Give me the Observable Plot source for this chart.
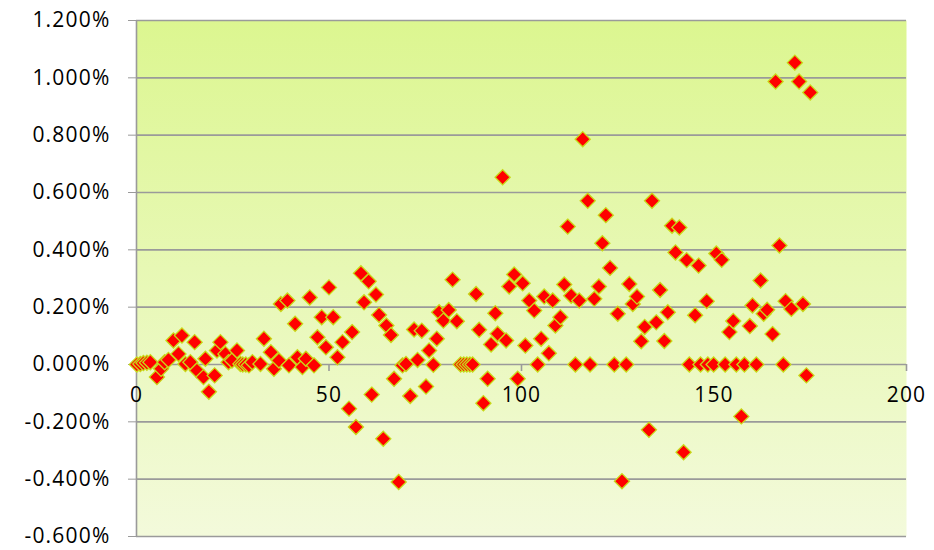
<!DOCTYPE html>
<html><head><meta charset="utf-8">
<script src="https://cdn.jsdelivr.net/npm/d3@7"></script>
<script src="https://cdn.jsdelivr.net/npm/@observablehq/plot@0.6"></script>
<style>body{margin:0;background:#fff;} #chart svg{display:block;}</style>
</head><body><div id="chart"></div>
<script>
const xValues = [0.1,1.0,1.8,2.7,3.6,5.3,6.4,7.3,8.3,9.6,10.9,11.8,12.7,14.0,15.1,15.7,17.4,17.9,18.8,20.3,20.9,21.8,23.1,23.9,24.8,26.1,27.0,27.6,28.4,29.2,30.1,32.2,33.1,34.9,35.7,37.0,37.5,39.2,39.6,41.2,41.8,43.1,44.0,45.0,46.1,47.0,48.1,49.2,50.0,51.1,52.2,53.5,55.2,56.0,57.0,58.3,59.1,60.3,61.1,62.2,63.0,64.1,64.9,66.1,66.9,68.1,69.1,70.0,71.1,72.1,73.0,74.1,75.2,76.0,77.1,78.0,78.6,79.7,81.1,82.1,83.2,84.2,85.0,85.8,86.6,87.3,88.2,89.0,90.1,91.2,92.1,93.2,93.8,95.1,96.0,96.8,98.1,99.0,100.3,101.0,102.0,103.3,104.2,105.1,105.9,107.1,108.1,108.8,110.1,111.1,112.0,112.9,114.0,115.0,115.9,117.2,117.8,118.9,120.1,121.0,121.9,123.0,124.1,125.0,126.1,127.2,128.0,128.9,130.0,131.1,132.0,133.1,133.9,135.0,136.0,137.1,138.0,139.1,140.0,141.0,142.1,142.9,143.6,145.1,146.0,146.5,148.1,148.4,149.9,150.6,152.0,152.9,154.0,155.0,155.8,157.1,157.9,159.3,160.0,161.0,162.1,162.9,163.8,165.2,166.0,167.0,168.0,168.6,170.1,171.0,172.1,173.1,174.0,175.0];
const yValues = [0.000,0.002,0.005,0.006,0.008,-0.044,-0.015,0.008,0.016,0.084,0.037,0.101,0.002,0.008,0.078,-0.021,-0.044,0.020,-0.095,-0.038,0.049,0.078,0.037,0.008,0.014,0.049,0.002,0.000,0.000,-0.003,0.008,0.002,0.090,0.043,-0.015,0.014,0.211,0.223,-0.003,0.142,0.025,-0.009,0.020,0.234,-0.003,0.095,0.165,0.060,0.269,0.165,0.025,0.078,-0.154,0.113,-0.218,0.318,0.217,0.290,-0.105,0.244,0.173,-0.259,0.136,0.103,-0.050,-0.410,-0.003,0.002,-0.110,0.122,0.016,0.118,-0.077,0.049,-0.001,0.090,0.182,0.153,0.190,0.296,0.151,0.000,0.000,0.000,0.000,0.000,0.246,0.121,-0.135,-0.050,0.070,0.179,0.107,0.653,0.084,0.272,0.314,-0.050,0.283,0.066,0.223,0.188,0.000,0.090,0.237,0.039,0.223,0.136,0.165,0.279,0.481,0.240,0.000,0.223,0.786,0.571,0.000,0.229,0.272,0.423,0.521,0.337,0.000,0.177,-0.407,0.000,0.281,0.211,0.237,0.081,0.131,-0.228,0.571,0.147,0.260,0.082,0.182,0.484,0.391,0.478,-0.306,0.364,0.000,0.172,0.345,0.000,0.221,0.000,0.000,0.387,0.365,0.000,0.113,0.152,0.000,-0.181,0.000,0.134,0.206,0.000,0.293,0.177,0.191,0.106,0.987,0.415,0.000,0.221,0.194,1.053,0.987,0.211,-0.038,0.949];
const xTicks = [0, 50, 100, 150, 200];
const yTicks = [-0.6, -0.4, -0.2, 0, 0.2, 0.4, 0.6, 0.8, 1.0, 1.2];

const points = xValues.map((x, i) => ({x, y: yValues[i]}));

const chart = Plot.plot({
  width: 934, height: 550,
  marginLeft: 136, marginRight: 28, marginTop: 20, marginBottom: 14,
  style: {fontFamily: "'Open Sans', sans-serif", background: "#fff", color: "#000"},
  x: {domain: [0, 200], axis: null},
  y: {domain: [-0.6, 1.2], label: null},
  marks: [
    Plot.frame({fill: "#e6f6b4", stroke: null}),
    Plot.ruleY(yTicks, {y: d => d, stroke: "#9a9a9a", strokeWidth: 1.6}),
    Plot.ruleX([0], {x: d => d, stroke: "#9a9a9a", strokeWidth: 1.6}),
    Plot.axisY(yTicks, {tickFormat: d => d.toFixed(3) + "%", tickSize: 8, tickPadding: 18, fontSize: 21, stroke: "#9a9a9a", fill: "#000", label: null}),
    Plot.ruleX(xTicks, {x: d => d, y1: d => 0, y2: d => 0, insetBottom: -7, stroke: "#9a9a9a", strokeWidth: 1.6}),
    Plot.text(xTicks, {x: d => d, y: d => 0, dy: 31, text: d => String(d), fontSize: 21, fill: "#000"}),
    Plot.dot(points, {x: "x", y: "y", symbol: "diamond2", r: 6.8, fill: "#ff0000", stroke: "#c8d818", strokeWidth: 1.3})
  ]
});
document.getElementById("chart").appendChild(chart);

// vertical gradient background for the plot frame
const svg = d3.select(chart.tagName.toLowerCase() === "svg" ? chart : chart.querySelector("svg"));
const defs = svg.insert("defs", ":first-child");
const grad = defs.append("linearGradient").attr("id", "bgGrad").attr("x1", 0).attr("y1", 0).attr("x2", 0).attr("y2", 1);
grad.append("stop").attr("offset", "0%").attr("stop-color", "#dcf690");
grad.append("stop").attr("offset", "100%").attr("stop-color", "#f3fadb");
svg.selectAll('[aria-label="frame"]').each(function() {
  if (this.tagName.toLowerCase() === "rect") d3.select(this).attr("fill", "url(#bgGrad)");
  d3.select(this).selectAll("rect").attr("fill", "url(#bgGrad)");
});
svg.selectAll("text").style("letter-spacing", "1.2px");
</script>
</body></html>
